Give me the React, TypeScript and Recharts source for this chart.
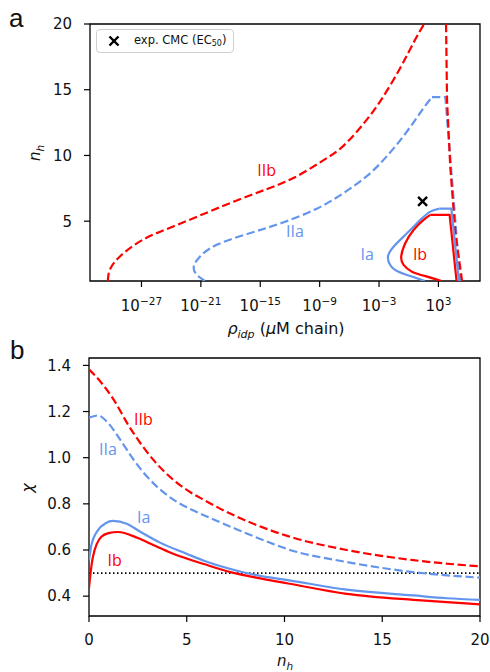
import React from "react";
import {
  ComposedChart,
  Line,
  Scatter,
  XAxis,
  YAxis,
  ReferenceArea,
  ReferenceLine,
  ReferenceDot,
} from "recharts";

// panel a: contours in (log10 rho_idp, n_h)
const TOP_X_DOMAIN = [-32.2, 7.2];
const TOP_X_TICKS = [-27, -21, -15, -9, -3, 3];
const TOP_Y_DOMAIN = [0.45, 20];
const TOP_Y_TICKS = [5, 10, 15, 20];

const IIB_LEFT = [
  [-30.4, 0.45], [-30.2, 1.3], [-29.2, 2.3], [-26.9, 3.57], [-23.8, 4.6],
  [-20.4, 5.65], [-17.3, 6.6], [-14.3, 7.45], [-11.6, 8.3], [-9.0, 9.45],
  [-6.8, 10.6], [-4.8, 12.2], [-2.9, 14.1], [-0.9, 16.6], [0.5, 18.6],
  [1.55, 20],
];
const IIB_RIGHT = [[3.77, 20], [3.87, 14.2], [4.2, 9.1], [4.71, 4.1], [5.39, 0.45]];

const IIA_CURVE = [
  [-20.6, 0.45], [-21.5, 1.0], [-21.7, 1.6], [-21.1, 2.3], [-19.4, 3.2],
  [-16.0, 4.1], [-12.7, 4.9], [-9.3, 5.95], [-6.6, 7.13], [-4.2, 8.45],
  [-2.2, 9.95], [-0.3, 11.7], [1.4, 13.5], [2.35, 14.44],
];
const IIA_EDGE = [[2.35, 14.44], [3.7, 14.44], [5.2, 0.45]];

const IA_CURVE = [
  [1.6, 0.45], [0.83, 0.66], [-1.03, 1.16], [-1.87, 1.67], [-2.1, 2.3],
  [-1.53, 3.06], [-0.18, 4.08], [1.17, 5.1], [2.18, 5.73], [3.12, 5.96],
];
const IA_EDGE = [[3.12, 5.96], [4.31, 5.96], [5.07, 0.45]];

const IB_CURVE = [
  [3.3, 0.45], [1.85, 0.78], [0.33, 1.16], [-0.52, 1.67], [-0.76, 2.3],
  [-0.35, 3.32], [0.49, 4.33], [1.5, 5.1], [2.18, 5.48],
];
const IB_EDGE = [[2.18, 5.48], [4.13, 5.48], [4.83, 0.45]];

const CMC_POINT = [[1.4, 6.5]];

const TOP_LABELS = [
  { text: "IIb", x: -14.35, y: 8.9, color: "red" },
  { text: "IIa", x: -11.5, y: 4.2, color: "blue" },
  { text: "Ia", x: -4.2, y: 2.45, color: "blue" },
  { text: "Ib", x: 1.14, y: 2.45, color: "red" },
];

// panel b: chi vs n_h
const BOT_X_DOMAIN = [0, 20];
const BOT_X_TICKS = [0, 5, 10, 15, 20];
const BOT_Y_DOMAIN = [0.314, 1.432];
const BOT_Y_TICKS = [0.4, 0.6, 0.8, 1.0, 1.2, 1.4];
const THETA_CHI = 0.5;

const IIB_CHI = [
  [0, 1.383], [0.63, 1.325], [1.31, 1.245], [2.0, 1.143], [2.68, 1.057],
  [3.36, 0.984], [4.3, 0.905], [5.06, 0.857], [5.92, 0.815], [7.62, 0.742],
  [9.3, 0.685], [10.18, 0.66], [13.18, 0.6], [16.6, 0.556], [20, 0.529],
];
const IIA_CHI = [
  [0, 1.173], [0.46, 1.183], [0.97, 1.151], [1.65, 1.071], [2.34, 0.984],
  [3.0, 0.915], [3.6, 0.865], [4.2, 0.825], [5.0, 0.785], [5.9, 0.75],
  [7.6, 0.688], [9.3, 0.63], [10.18, 0.603], [13.18, 0.548], [16.6, 0.504],
  [20, 0.48],
];
const IA_CHI = [
  [0, 0.555], [0.12, 0.62], [0.46, 0.686], [0.85, 0.716], [1.23, 0.726],
  [1.93, 0.714], [2.6, 0.68], [3.63, 0.632], [4.99, 0.584], [5.92, 0.552],
  [7.62, 0.509], [8.82, 0.487], [10.0, 0.472], [13.18, 0.428], [16.59, 0.403],
  [18.3, 0.391], [20, 0.384],
];
const IB_CHI = [
  [0, 0.435], [0.08, 0.5], [0.2, 0.57], [0.63, 0.657], [1.0, 0.673],
  [1.48, 0.678], [2.5, 0.652], [3.4, 0.617], [4.21, 0.587], [5.92, 0.538],
  [7.28, 0.503], [8.82, 0.476], [10.18, 0.455], [13.18, 0.41], [16.59, 0.384],
  [18.3, 0.374], [20, 0.364],
];

const BOT_LABELS = [
  { text: "IIb", x: 2.78, y: 1.165, color: "red" },
  { text: "IIa", x: 0.97, y: 1.035, color: "blue" },
  { text: "Ia", x: 2.8, y: 0.74, color: "blue" },
  { text: "Ib", x: 1.31, y: 0.556, color: "red" },
];

const RED = "#ff0000";
const BLUE = "#6495ed";
const FONT = "DejaVu Sans, sans-serif";
const LABEL_FONT = "Open Sans, sans-serif";
const DASH = "8.3 3.6";
const LW = 2.2;

const pts = (arr: number[][]) => arr.map(([x, y]) => ({ x, y }));
const colorOf = (c: string) => (c === "red" ? RED : BLUE);

const tickStyle = { fontSize: 15, fill: "#111", fontFamily: FONT };

function LogTick(props: any) {
  const { x, y, payload } = props;
  const exp = String(payload.value).replace("-", "\u2212");
  return (
    <text x={x} y={y} textAnchor="middle" fontFamily={FONT} fill="#111">
      <tspan dy={12.3} fontSize={15}>10</tspan>
      <tspan dy={-6.6} fontSize={10.5}>{exp}</tspan>
    </text>
  );
}

function CrossMark(props: any) {
  const { cx, cy } = props;
  const s = 4.5;
  return (
    <g stroke="#000" strokeWidth={2.4}>
      <line x1={cx - s} y1={cy - s} x2={cx + s} y2={cy + s} />
      <line x1={cx - s} y1={cy + s} x2={cx + s} y2={cy - s} />
    </g>
  );
}

function seg(key: string, arr: number[][], color: string, dashed: boolean, type: any) {
  return (
    <Line
      key={key}
      data={pts(arr)}
      dataKey="y"
      type={type}
      stroke={color}
      strokeWidth={LW}
      strokeDasharray={dashed ? DASH : undefined}
      dot={false}
      activeDot={false}
      isAnimationActive={false}
    />
  );
}

function annot(l: { text: string; x: number; y: number; color: string }) {
  return (
    <ReferenceDot
      key={l.text}
      x={l.x}
      y={l.y}
      r={0}
      fill="none"
      stroke="none"
      label={{
        value: l.text,
        position: "center",
        fill: colorOf(l.color),
        fontSize: 16,
        fontFamily: LABEL_FONT,
      }}
    />
  );
}

export default function App() {
  return (
    <div
      style={{
        position: "absolute",
        left: 0,
        top: 0,
        width: 490,
        height: 672,
        background: "#fff",
        fontFamily: FONT,
      }}
    >
      <div style={{ position: "absolute", left: 0, top: 0 }}>
        <ComposedChart width={490} height={336} margin={{ top: 24, right: 10, bottom: 0, left: 0 }}>
          <XAxis
            type="number"
            dataKey="x"
            domain={TOP_X_DOMAIN}
            ticks={TOP_X_TICKS}
            allowDataOverflow
            height={55}
            tickSize={6}
            tickMargin={12}
            axisLine={false}
            tickLine={{ stroke: "#000", strokeWidth: 1.2 }}
            tick={(p: any) => <LogTick {...p} />}
          />
          <YAxis
            type="number"
            dataKey="y"
            domain={TOP_Y_DOMAIN}
            ticks={TOP_Y_TICKS}
            allowDataOverflow
            width={90}
            tickSize={6}
            tickMargin={12}
            axisLine={false}
            tickLine={{ stroke: "#000", strokeWidth: 1.2 }}
            tick={tickStyle}
          />
          <ReferenceArea
            x1={TOP_X_DOMAIN[0]}
            x2={TOP_X_DOMAIN[1]}
            y1={TOP_Y_DOMAIN[0]}
            y2={TOP_Y_DOMAIN[1]}
            fill="none"
            fillOpacity={0}
            stroke="#000"
            strokeWidth={1.3}
          />
          {seg("iia-c", IIA_CURVE, BLUE, true, "natural")}
          {seg("iia-e", IIA_EDGE, BLUE, true, "linear")}
          {seg("iib-l", IIB_LEFT, RED, true, "natural")}
          {seg("iib-r", IIB_RIGHT, RED, true, "linear")}
          {seg("ia-c", IA_CURVE, BLUE, false, "natural")}
          {seg("ia-e", IA_EDGE, BLUE, false, "linear")}
          {seg("ib-c", IB_CURVE, RED, false, "natural")}
          {seg("ib-e", IB_EDGE, RED, false, "linear")}
          <Scatter data={pts(CMC_POINT)} dataKey="y" shape={(p: any) => <CrossMark {...p} />} isAnimationActive={false} />
          {TOP_LABELS.map(annot)}
        </ComposedChart>
      </div>

      <div style={{ position: "absolute", left: 0, top: 336 }}>
        <ComposedChart width={490} height={336} margin={{ top: 22, right: 10, bottom: 0, left: 0 }}>
          <XAxis
            type="number"
            dataKey="x"
            domain={BOT_X_DOMAIN}
            ticks={BOT_X_TICKS}
            allowDataOverflow
            height={56}
            tickSize={6}
            tickMargin={12}
            axisLine={false}
            tickLine={{ stroke: "#000", strokeWidth: 1.2 }}
            tick={tickStyle}
          />
          <YAxis
            type="number"
            dataKey="y"
            domain={BOT_Y_DOMAIN}
            ticks={BOT_Y_TICKS}
            allowDataOverflow
            width={89}
            tickSize={6}
            tickMargin={12}
            axisLine={false}
            tickLine={{ stroke: "#000", strokeWidth: 1.2 }}
            tick={tickStyle}
            tickFormatter={(v: number) => v.toFixed(1)}
          />
          <ReferenceArea
            x1={BOT_X_DOMAIN[0]}
            x2={BOT_X_DOMAIN[1]}
            y1={BOT_Y_DOMAIN[0]}
            y2={BOT_Y_DOMAIN[1]}
            fill="none"
            fillOpacity={0}
            stroke="#000"
            strokeWidth={1.3}
          />
          <ReferenceLine y={THETA_CHI} stroke="#000" strokeWidth={1.8} strokeDasharray="1.5 2.5" />
          {seg("iib", IIB_CHI, RED, true, "monotone")}
          {seg("iia", IIA_CHI, BLUE, true, "monotone")}
          {seg("ia", IA_CHI, BLUE, false, "monotone")}
          {seg("ib", IB_CHI, RED, false, "monotone")}
          {BOT_LABELS.map(annot)}
        </ComposedChart>
      </div>

      {/* legend of panel a */}
      <div
        style={{
          position: "absolute",
          left: 96,
          top: 29,
          width: 136,
          height: 22,
          border: "1.5px solid #d0d0d0",
          borderRadius: 4,
          background: "rgba(255,255,255,0.85)",
          fontSize: 11.5,
          color: "#111",
          fontFamily: FONT,
        }}
      >
        <svg width={20} height={22} style={{ position: "absolute", left: 7, top: 0 }}>
          <CrossMark cx={10} cy={11} />
        </svg>
        <span style={{ position: "absolute", left: 37, top: 3, whiteSpace: "nowrap" }}>
          exp. CMC (EC<sub style={{ fontSize: 8, verticalAlign: "-2px" }}>50</sub>)
        </span>
      </div>

      <svg
        width={490}
        height={672}
        style={{ position: "absolute", left: 0, top: 0, pointerEvents: "none" }}
        fontFamily={FONT}
        fill="#111"
      >
        <text x={9} y={27} fontSize={26} fontFamily="Liberation Sans, sans-serif">a</text>
        <text x={10} y={359} fontSize={26} fontFamily="Liberation Sans, sans-serif">b</text>

        <text transform="translate(40,153) rotate(-90)" textAnchor="middle" fontSize={15}>
          <tspan fontStyle="italic">n</tspan>
          <tspan fontStyle="italic" fontSize={10.5} dy={3.5}>h</tspan>
        </text>
        <text x={286} y={334} textAnchor="middle" fontSize={16}>
          <tspan fontStyle="italic">ρ</tspan>
          <tspan fontStyle="italic" fontSize={11} dy={3.5}>idp</tspan>
          <tspan dy={-3.5}> (</tspan>
          <tspan fontStyle="italic">μ</tspan>
          <tspan>M chain)</tspan>
        </text>

        <text transform="translate(33,488) rotate(-90)" textAnchor="middle" fontSize={16} fontStyle="italic">
          χ
        </text>
        <text x={285} y={666} textAnchor="middle" fontSize={15}>
          <tspan fontStyle="italic">n</tspan>
          <tspan fontStyle="italic" fontSize={10.5} dy={3.5}>h</tspan>
        </text>
      </svg>
    </div>
  );
}
